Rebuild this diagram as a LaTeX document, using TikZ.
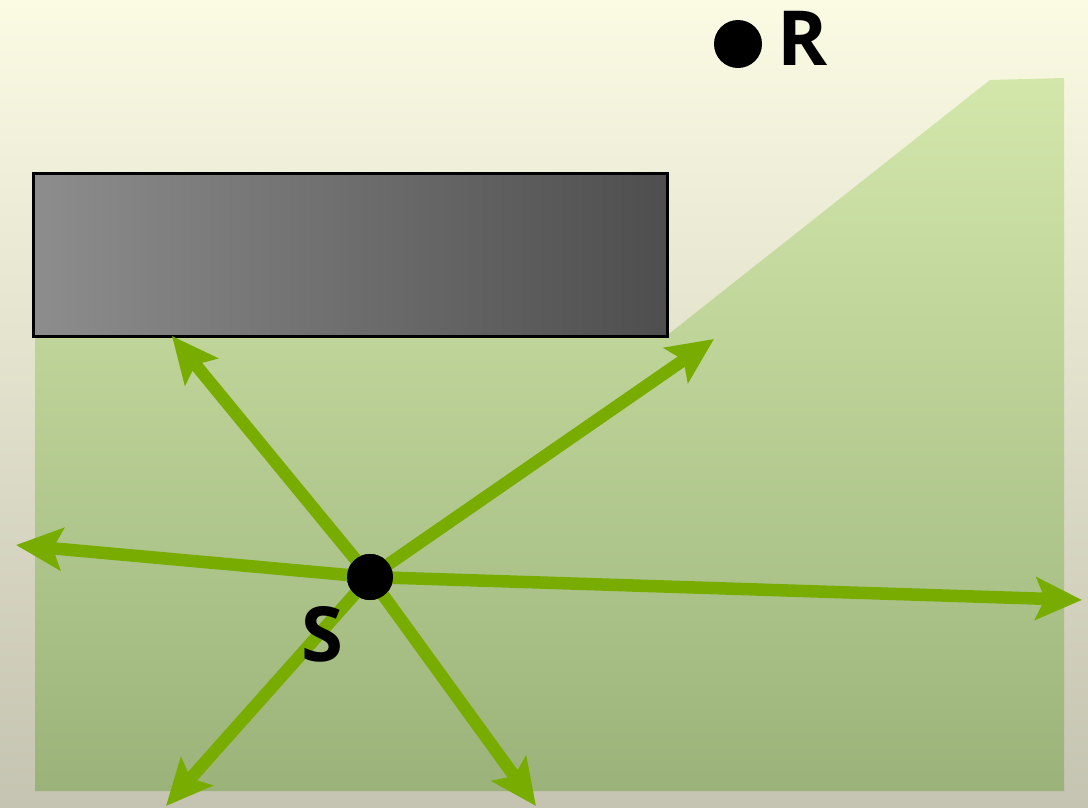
\documentclass[tikz,border=0pt]{standalone}
\usepackage{fontspec}
\setmainfont{Open Sans}
\usetikzlibrary{arrows.meta}
\definecolor{bgtop}{HTML}{FBFBE4}
\definecolor{bgbot}{HTML}{C5C3B1}
\definecolor{grtop}{HTML}{D3E7AB}
\definecolor{grbot}{HTML}{9BB37A}
\definecolor{boxl}{HTML}{8D8D8D}
\definecolor{boxr}{HTML}{4E4E4E}
\definecolor{ray}{HTML}{78AD00}
\tikzset{
  rayarrow/.style={draw=ray, line width=12.5pt, -{Stealth[length=46pt,width=42pt,inset=9pt]}},
  dot/.style={circle, fill=black, inner sep=0pt},
  lbl/.style={font=\fontsize{76}{76}\selectfont\bfseries, inner sep=0pt, text=black}
}
\begin{document}
\begin{tikzpicture}[x=1pt,y=-1pt]
\useasboundingbox (0,0) rectangle (1088,807);
\shade[top color=bgtop, bottom color=bgbot] (0,0) rectangle (1088,807);
\shade[top color=grtop, bottom color=grbot] (35,335) -- (670,333) -- (990,80) -- (1064,78) -- (1064,791) -- (35,791) -- cycle;
\node[draw=black, line width=2.5pt, left color=boxl, right color=boxr, minimum width=634pt, minimum height=163pt, inner sep=0pt, anchor=north west] (box) at (32,172) {};
\coordinate (t1) at (172,336);
\coordinate (t2) at (714,339);
\coordinate (t3) at (16,545);
\coordinate (t4) at (1082,600);
\coordinate (t5) at (166,806);
\coordinate (t6) at (536,806);
\node[dot, minimum size=46pt] (S) at (370,577) {};
\foreach \t in {t1,t2,t3,t4,t5,t6} \draw[rayarrow] (S.center) -- (\t);
\node[dot, minimum size=46pt] (S2) at (370,577) {};
\node[lbl] (Slbl) at (322,634) {S};
\node[dot, minimum size=48pt] (R) at (738,44) {};
\node[lbl] (Rlbl) at (803,38) {R};
\end{tikzpicture}
\end{document}
